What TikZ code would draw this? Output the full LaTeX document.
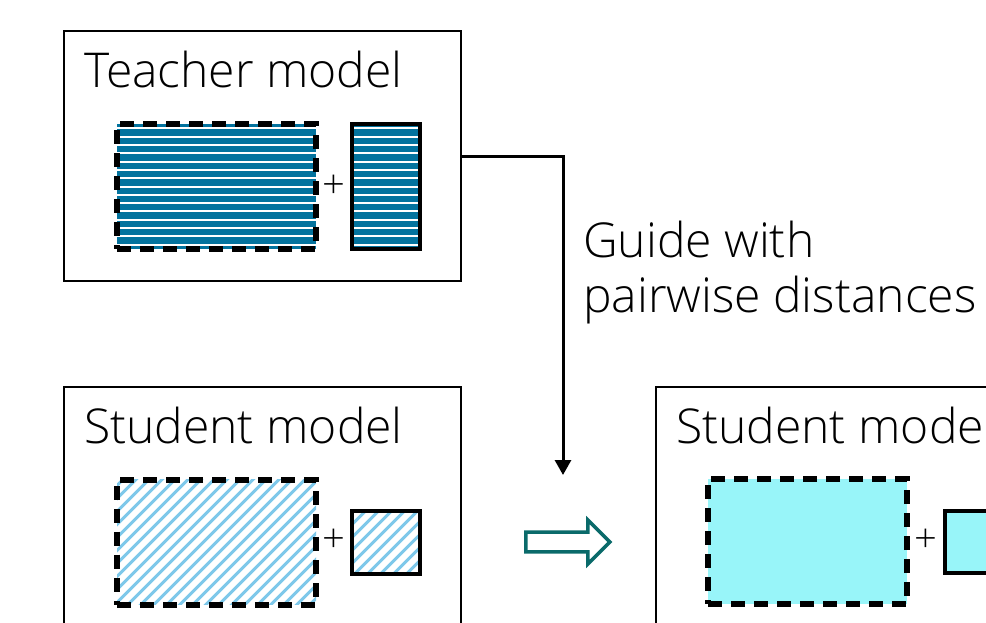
\documentclass[tikz,border=0pt]{standalone}
\usepackage{fontspec}
\setmainfont{Open Sans Light}
\usetikzlibrary{arrows.meta,shapes.arrows}
\definecolor{tblue}{HTML}{03739E}
\definecolor{hblue}{HTML}{7EC8EA}
\definecolor{scyan}{HTML}{98F5F9}
\definecolor{ateal}{HTML}{0A6A6A}
\begin{document}
\begin{tikzpicture}[x=1pt,y=-1pt,
  modelbox/.style={draw=black,line width=2pt,inner sep=0pt},
  dashbox/.style={draw=black,line width=6pt,dash pattern=on 14pt off 9pt,inner sep=0pt,minimum width=199pt,minimum height=125pt},
  solidbox/.style={draw=black,line width=4pt,inner sep=0pt},
  title/.style={anchor=base west,inner sep=0pt,font=\fontsize{48}{55}\selectfont},
  plus/.style={inner sep=0pt,font=\fontsize{40}{40}\selectfont},
  hlines/.style={fill=tblue,path picture={
      \foreach \k in {-20,...,20}{
        \draw[white,solid,line width=2pt] ([yshift=\k*8.3pt]path picture bounding box.west) -- ([yshift=\k*8.3pt]path picture bounding box.east);}}},
  hatch/.style={fill=white,path picture={
      \foreach \k in {-30,...,30}{
        \draw[hblue,solid,line width=3pt] ([xshift=\k*13pt-100pt,yshift=-100pt]path picture bounding box.center) -- ++(200pt,200pt);}}},
]
\useasboundingbox (0,0) rectangle (986,622);
\clip (0,0) rectangle (986,622);
% Teacher
\node[modelbox,minimum width=397pt,minimum height=250pt] (teacher) at (262.5,156) {};
\node[title] (tlabel) at (84,87) {Teacher model};
\node[dashbox,hlines] (tbig) at (216.5,186.5) {};
\node[solidbox,hlines,minimum width=68pt,minimum height=125pt] (tsmall) at (386,186.5) {};
\node[plus] (tplus) at (334,187) {+};
% Student left
\node[modelbox,minimum width=397pt,minimum height=293pt] (student) at (262.5,533.5) {};
\node[title] (slabel) at (84,443) {Student model};
\node[dashbox,hatch] (sbig) at (216.5,542) {};
\node[solidbox,hatch,minimum width=68pt,minimum height=63pt] (ssmall) at (386,542.5) {};
\node[plus] (splus) at (334,541) {+};
% Student right
\node[modelbox,minimum width=397pt,minimum height=293pt] (student2) at (854.5,533.5) {};
\node[title] (s2label) at (676,443) {Student model};
\node[dashbox,fill=scyan] (rbig) at (807.5,541.5) {};
\node[solidbox,fill=scyan,minimum width=68pt,minimum height=62pt] (rsmall) at (979,542) {};
\node[plus] (rplus) at (926,541) {+};
% guide connector
\coordinate (gend) at (563,475);
\draw[line width=3pt,-{Triangle[width=16pt,length=15pt]}] (teacher.east) -| (gend);
\node[anchor=base west,inner sep=0pt,align=left,font=\fontsize{48}{55}\selectfont] (guide) at (583,312) {Guide with\\pairwise distances};
% hollow arrow
\node[single arrow,draw=ateal,line width=3.5pt,fill=white,minimum height=84pt,minimum width=44pt,single arrow head extend=12pt,inner sep=8pt,anchor=center] (harrow) at (563,542) {};
\end{tikzpicture}
\end{document}
